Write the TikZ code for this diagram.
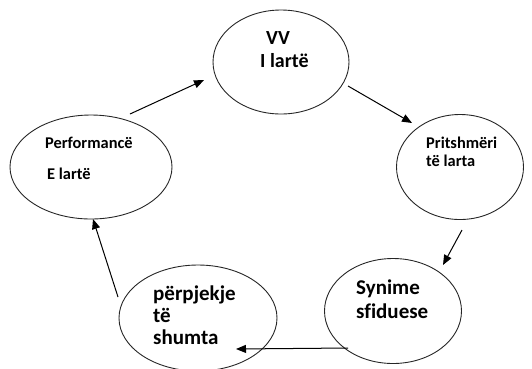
\documentclass[tikz,border=0pt]{standalone}
\usepackage{fontspec}
\setmainfont{Carlito}[Ligatures=NoCommon]
\usetikzlibrary{shapes.geometric,arrows.meta}
\tikzset{
  bubble/.style={draw=black!85, line width=0.9pt, ellipse, inner sep=0pt},
  lbl/.style={anchor=base west, inner sep=0pt, font=\bfseries},
  conn/.style={line width=1pt, -{Triangle[length=10pt,width=8pt]}},
}
\begin{document}
\begin{tikzpicture}[x=1pt,y=-1pt]
\useasboundingbox (0,0) rectangle (532,368);
% ellipses
\node[bubble, minimum width=136pt, minimum height=104pt] (top) at (281,62) {};
\node[bubble, minimum width=162pt, minimum height=104pt] (left) at (91,167) {};
\node[bubble, minimum width=127pt, minimum height=105pt] (right) at (460,167) {};
\node[bubble, minimum width=137pt, minimum height=105pt] (br) at (393,311) {};
\node[bubble, minimum width=158pt, minimum height=106pt] (bl) at (198,318) {};
% texts
\node[lbl, font=\bfseries\fontsize{20}{24}\selectfont] (t1) at (266,44) {VV};
\node[lbl, font=\bfseries\fontsize{20}{24}\selectfont] (t2) at (260,67) {I lartë};
\node[lbl, font=\bfseries\fontsize{16.4}{20}\selectfont] (l1) at (45,148) {Performancë};
\node[lbl, font=\bfseries\fontsize{16.4}{20}\selectfont] (l2) at (47,179) {E lartë};
\node[lbl, font=\bfseries\fontsize{16.4}{20}\selectfont] (r1) at (426,148) {Pritshmëri};
\node[lbl, font=\bfseries\fontsize{16.4}{20}\selectfont] (r2) at (426,166) {të larta};
\node[lbl, font=\bfseries\fontsize{21}{25}\selectfont] (b1) at (356,294) {Synime};
\node[lbl, font=\bfseries\fontsize{21}{25}\selectfont] (b2) at (356,318) {sfiduese};
\node[lbl, font=\bfseries\fontsize{21}{25}\selectfont] (c1) at (153,300) {përpjekje};
\node[lbl, font=\bfseries\fontsize{21}{25}\selectfont] (c2) at (153,322) {të};
\node[lbl, font=\bfseries\fontsize{21}{25}\selectfont] (c3) at (153,344) {shumta};
% connector end points
\coordinate (a1s) at (130,114); \coordinate (a1e) at (204,80);
\coordinate (a2s) at (348,86);  \coordinate (a2e) at (412,123);
\coordinate (a3s) at (462,230); \coordinate (a3e) at (443,265);
\coordinate (a4s) at (348,348); \coordinate (a4e) at (236,349);
\coordinate (a5s) at (118,297); \coordinate (a5e) at (93,219);
\draw[conn] (a1s) -- (a1e);
\draw[conn] (a2s) -- (a2e);
\draw[conn] (a3s) -- (a3e);
\draw[conn] (a4s) -- (a4e);
\draw[conn] (a5s) -- (a5e);
\end{tikzpicture}
\end{document}
